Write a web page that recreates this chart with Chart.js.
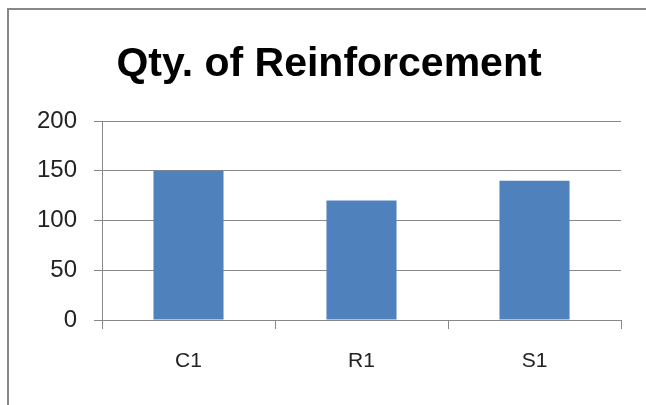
<!DOCTYPE html>
<html>
<head>
<meta charset="utf-8">
<script src="https://cdn.jsdelivr.net/npm/chart.js@4"></script>
<style>
    html, body { margin: 0; padding: 0; background: #fff; }
    body { width: 646px; height: 405px; position: relative; overflow: hidden; }
    #frame {
        position: absolute; left: 7px; top: 8px; width: 700px; height: 500px;
        border-left: 2px solid #888; border-top: 2px solid #888;
    }
    #chart { position: absolute; left: 0; top: 0; }
</style>
</head>
<body>
<div id="frame"></div>
<canvas id="chart" width="646" height="405"></canvas>
<script>
const categories = ["C1", "R1", "S1"];
const quantities = [150, 120, 140];
const yTicks = [0, 50, 100, 150, 200];
const chartTitle = "Qty. of Reinforcement";

// 제목은 캔버스 중앙(테두리 기준)에 직접 그림
const titlePlugin = {
    id: "fixedTitle",
    afterDraw(chart) {
        const ctx = chart.ctx;
        ctx.save();
        ctx.font = "bold 41px 'Liberation Sans', Arial, sans-serif";
        ctx.fillStyle = "#000";
        ctx.textAlign = "center";
        ctx.textBaseline = "alphabetic";
        ctx.fillText(chartTitle, 329, 76);
        ctx.restore();
    }
};

const ctx = document.getElementById("chart").getContext("2d");
new Chart(ctx, {
    type: "bar",
    data: {
        labels: categories,
        datasets: [{
            label: "Qty",
            data: quantities,
            backgroundColor: "#4f81bd",
            categoryPercentage: 1,
            barPercentage: 0.405
        }]
    },
    options: {
        responsive: false,
        animation: false,
        layout: { padding: { top: 121, right: 25, left: 0, bottom: 0 } },
        plugins: {
            legend: { display: false },
            title: { display: false },
            tooltip: { enabled: false }
        },
        scales: {
            x: {
                afterFit: (scale) => { scale.height = 85; },
                grid: {
                    offset: true,
                    drawOnChartArea: false,
                    drawTicks: true,
                    tickLength: 9,
                    color: "#888"
                },
                border: { display: true, color: "#888" },
                ticks: {
                    color: "#222",
                    padding: 20,
                    font: { family: "'Liberation Sans', Arial, sans-serif", size: 21 }
                }
            },
            y: {
                min: 0,
                max: 200,
                afterFit: (scale) => { scale.width = 102; },
                afterBuildTicks: (scale) => {
                    scale.ticks = yTicks.map(v => ({ value: v }));
                },
                grid: { color: "#888", tickLength: 8 },
                border: { display: true, color: "#888" },
                ticks: {
                    color: "#222",
                    padding: 17,
                    font: { family: "'Liberation Sans', Arial, sans-serif", size: 24 }
                }
            }
        }
    },
    plugins: [titlePlugin]
});
</script>
</body>
</html>
